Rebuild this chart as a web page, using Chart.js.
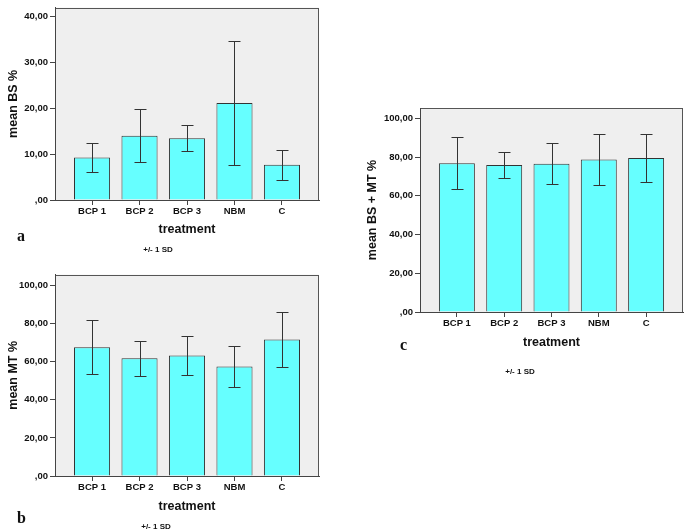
<!DOCTYPE html>
<html>
<head>
<meta charset="utf-8">
<script src="https://cdn.jsdelivr.net/npm/chart.js@4.4.1/dist/chart.umd.min.js"></script>
<style>
  body { margin: 0; background: #fff; width: 685px; height: 529px; position: relative; overflow: hidden; }
  canvas { position: absolute; }
  .lbl { position: absolute; font-family: "Liberation Serif", serif; font-weight: bold; font-size: 16px; color: #111; }
  .sd { position: absolute; font-family: "Liberation Sans", Arial, sans-serif; font-weight: bold; font-size: 8px; color: #111; transform: translate(-50%, -50%); white-space: nowrap; }
</style>
</head>
<body>
<canvas id="chartA" style="left:0;top:0;" width="330" height="240"></canvas>
<canvas id="chartB" style="left:0;top:267px;" width="330" height="250"></canvas>
<canvas id="chartC" style="left:360px;top:100px;" width="325" height="253"></canvas>
<div class="lbl" style="left:17px;top:227px;">a</div>
<div class="sd" style="left:158px;top:249px;">+/- 1 SD</div>
<div class="lbl" style="left:17px;top:509px;">b</div>
<div class="sd" style="left:156px;top:526px;">+/- 1 SD</div>
<div class="lbl" style="left:400px;top:336px;">c</div>
<div class="sd" style="left:520px;top:371px;">+/- 1 SD</div>
<script>
const treatments = ['BCP 1', 'BCP 2', 'BCP 3', 'NBM', 'C'];

// panel a: mean BS %
const bsMean = [9.3, 14.05, 13.5, 21.2, 7.7];
const bsSd = [3.25, 5.75, 2.8, 13.6, 3.25];

// panel b: mean MT %
const mtMean = [67.5, 61.8, 63.2, 57.4, 71.6];
const mtSd = [14.15, 9.25, 10.45, 10.55, 14.2];

// panel c: mean BS + MT %
const bsmtMean = [76.8, 75.85, 76.55, 78.7, 79.5];
const bsmtSd = [13.3, 6.55, 10.65, 13.3, 12.3];

const font = 'Liberation Sans';
const axisColor = '#444';

function fmtTick(v) {
  if (v === 0) return ',00';
  return v.toFixed(2).replace('.', ',');
}

const plotBg = {
  id: 'plotBg',
  beforeDraw(chart) {
    const { ctx, chartArea: a } = chart;
    ctx.save();
    ctx.fillStyle = '#efefef';
    ctx.fillRect(a.left, a.top, a.right - a.left, a.bottom - a.top);
    ctx.strokeStyle = '#555';
    ctx.lineWidth = 1;
    ctx.strokeRect(Math.round(a.left) + 0.5, Math.round(a.top) + 0.5,
      Math.round(a.right - a.left) - 1, Math.round(a.bottom - a.top));
    ctx.restore();
  }
};

const errorBars = {
  id: 'errorBars',
  afterDatasetsDraw(chart) {
    const { ctx, scales: { x, y } } = chart;
    const ds = chart.data.datasets[0];
    ctx.save();
    ctx.strokeStyle = '#333';
    ctx.lineWidth = 1;
    ds.data.forEach((p, i) => {
      const sd = ds.sd[i];
      const px = Math.round(x.getPixelForValue(p.x)) + 0.5;
      const hi = Math.round(y.getPixelForValue(p.y + sd)) + 0.5;
      const lo = Math.round(y.getPixelForValue(p.y - sd)) + 0.5;
      ctx.beginPath();
      ctx.moveTo(px, hi); ctx.lineTo(px, lo);
      ctx.moveTo(px - 6, hi); ctx.lineTo(px + 6, hi);
      ctx.moveTo(px - 6, lo); ctx.lineTo(px + 6, lo);
      ctx.stroke();
    });
    ctx.restore();
  }
};

function makeChart(id, means, sds, yMax, yTitle, yWidth, yTitlePad, pad, xHeight) {
  new Chart(document.getElementById(id), {
    type: 'bar',
    data: {
      datasets: [{
        data: means.map((v, i) => ({ x: i, y: v })),
        sd: sds,
        backgroundColor: '#66ffff',
        borderColor: '#333',
        borderWidth: 1,
        borderSkipped: 'bottom',
        barPercentage: 0.76,
        categoryPercentage: 1
      }]
    },
    options: {
      responsive: false,
      animation: false,
      layout: { padding: pad },
      plugins: { legend: { display: false }, tooltip: { enabled: false } },
      scales: {
        x: {
          type: 'linear',
          min: -0.78,
          max: 4.78,
          offset: false,
          afterFit: s => { s.height = xHeight; },
          grid: { drawOnChartArea: false, offset: false, tickLength: 5, color: axisColor },
          border: { color: axisColor },
          ticks: {
            stepSize: 1,
            includeBounds: false,
            padding: 1,
            color: '#111',
            font: { family: font, weight: 'bold', size: 9.5 },
            callback: v => Number.isInteger(v) ? (treatments[v] || '') : ''
          },
          title: {
            display: true, text: 'treatment', color: '#111',
            padding: { top: 0, bottom: 2.5 },
            font: { family: font, weight: 'bold', size: 12.5 }
          }
        },
        y: {
          min: 0,
          max: yMax,
          afterFit: s => { s.width = yWidth; },
          grid: { drawOnChartArea: false, tickLength: 5, color: axisColor },
          border: { color: axisColor },
          ticks: {
            stepSize: yMax > 50 ? 20 : 10,
            includeBounds: false,
            padding: 2,
            color: '#111',
            font: { family: font, weight: 'bold', size: 9.5 },
            callback: v => fmtTick(v)
          },
          title: {
            display: true, text: yTitle, color: '#111',
            padding: { top: yTitlePad, bottom: 0 },
            font: { family: font, weight: 'bold', size: 12.5 }
          }
        }
      }
    },
    plugins: [plotBg, errorBars]
  });
}

makeChart('chartA', bsMean, bsSd, 42, 'mean BS %', 55, 6.5, { top: 1, right: 11, left: 0, bottom: 0 }, 40);
makeChart('chartB', mtMean, mtSd, 105.6, 'mean MT %', 55, 6.5, { top: 3, right: 11, left: 0, bottom: 0 }, 41);
makeChart('chartC', bsmtMean, bsmtSd, 105.3, 'mean BS + MT %', 60, 5.5, { top: 8, right: 2, left: 0, bottom: 0 }, 41);
</script>
</body>
</html>
